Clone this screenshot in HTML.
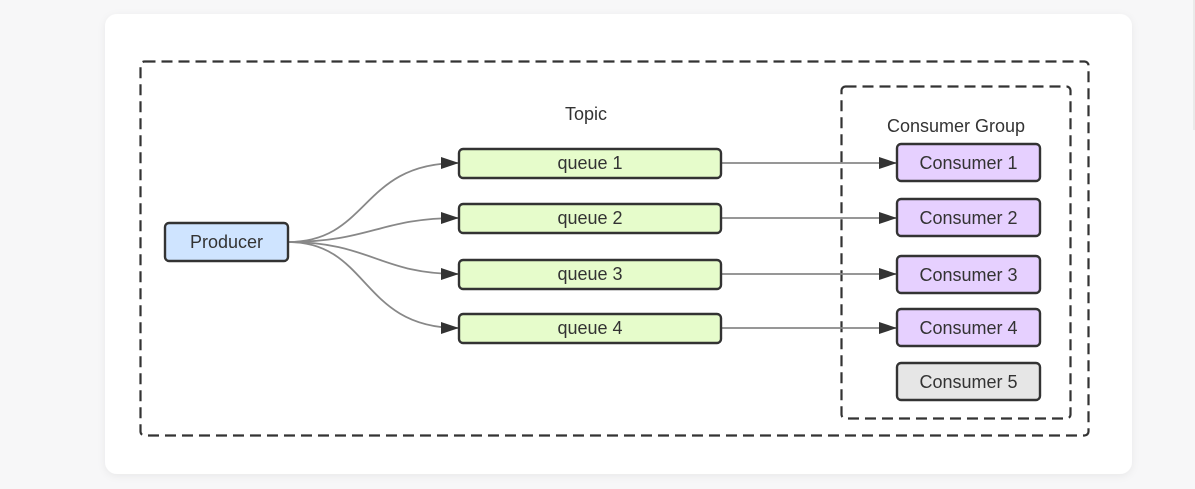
<!DOCTYPE html>
<html><head><meta charset="utf-8"><style>
html,body{margin:0;padding:0;width:1195px;height:489px;overflow:hidden;background:#f7f7f8;}
svg{display:block;}
text{font-family:"Liberation Sans",Arial,sans-serif;fill:#333;}
</style></head><body>
<svg width="1195" height="489" viewBox="0 0 1195 489" xmlns="http://www.w3.org/2000/svg">
<defs>
<marker id="a" markerWidth="18" markerHeight="12" refX="17" refY="6" orient="auto" markerUnits="userSpaceOnUse">
<path d="M0,0 L18,6 L0,12 Z" fill="#333"/></marker>
<filter id="sh" x="-5%" y="-5%" width="110%" height="115%"><feDropShadow dx="0" dy="2" stdDeviation="4" flood-color="#000" flood-opacity="0.06"/></filter>
</defs>
<line x1="1194" y1="0" x2="1194" y2="130" stroke="#ddd" stroke-width="1"/>
<rect x="105" y="14" width="1027" height="460" rx="12" fill="#fff" filter="url(#sh)"/>
<rect x="140.5" y="61.5" width="948" height="374" rx="4" fill="none" stroke="#333" stroke-width="2.2" stroke-dasharray="11,6"/>
<rect x="841.5" y="86.5" width="229" height="332" rx="4" fill="none" stroke="#333" stroke-width="2.2" stroke-dasharray="11,6"/>
<text x="586" y="120" font-size="18" text-anchor="middle">Topic</text>
<text x="956" y="132" font-size="18" text-anchor="middle">Consumer Group</text>
<g fill="none" stroke="#888" stroke-width="1.8">
<path d="M288,242 C370,242 360,163 458,163" marker-end="url(#a)"/>
<path d="M288,242 C370,242 380,218 458,218" marker-end="url(#a)"/>
<path d="M288,242 C370,242 380,274 458,274" marker-end="url(#a)"/>
<path d="M288,242 C370,242 360,328 458,328" marker-end="url(#a)"/>
<path d="M721,163 H896" marker-end="url(#a)"/>
<path d="M721,218 H896" marker-end="url(#a)"/>
<path d="M721,274 H896" marker-end="url(#a)"/>
<path d="M721,328 H896" marker-end="url(#a)"/>
</g>
<g stroke="#333" stroke-width="2.4">
<rect x="165" y="223" width="123" height="38" rx="4" fill="#cfe4ff"/>
<rect x="459" y="149" width="262" height="29" rx="4" fill="#e6fccb"/>
<rect x="459" y="204" width="262" height="29" rx="4" fill="#e6fccb"/>
<rect x="459" y="260" width="262" height="29" rx="4" fill="#e6fccb"/>
<rect x="459" y="314" width="262" height="29" rx="4" fill="#e6fccb"/>
<rect x="897" y="144" width="143" height="37" rx="4" fill="#e6d0ff"/>
<rect x="897" y="199" width="143" height="37" rx="4" fill="#e6d0ff"/>
<rect x="897" y="256" width="143" height="37" rx="4" fill="#e6d0ff"/>
<rect x="897" y="309" width="143" height="37" rx="4" fill="#e6d0ff"/>
<rect x="897" y="363" width="143" height="37" rx="4" fill="#e6e6e6"/>
</g>
<g font-size="18" text-anchor="middle">
<text x="226.5" y="248">Producer</text>
<text x="590" y="169">queue 1</text>
<text x="590" y="224">queue 2</text>
<text x="590" y="280">queue 3</text>
<text x="590" y="334">queue 4</text>
<text x="968.5" y="169">Consumer 1</text>
<text x="968.5" y="224">Consumer 2</text>
<text x="968.5" y="281">Consumer 3</text>
<text x="968.5" y="334">Consumer 4</text>
<text x="968.5" y="388">Consumer 5</text>
</g>
</svg>
</body></html>
